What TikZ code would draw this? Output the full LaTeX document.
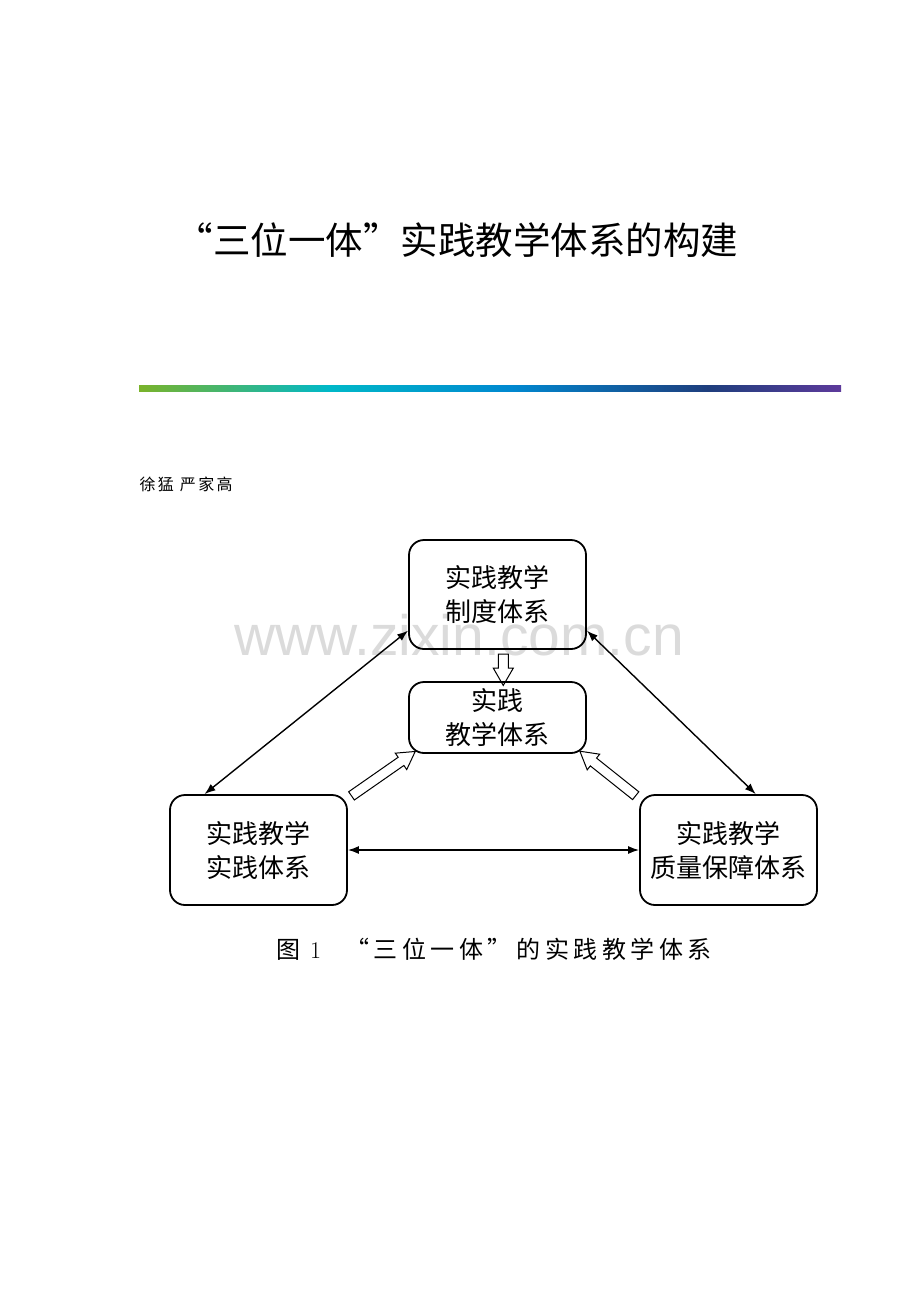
\documentclass[tikz,border=0pt]{standalone}
\usepackage{fontspec}
\newfontfamily\cjk{Noto Sans CJK SC}
\newfontfamily\cjkwide[LetterSpace=15]{Noto Sans CJK SC}
\newfontfamily\cjkwider[LetterSpace=19]{Noto Sans CJK SC}
\newfontfamily\wmfont{Liberation Sans}
\usetikzlibrary{arrows.meta,calc,shapes.arrows}
\definecolor{BarGreen}{RGB}{122,179,42}
\definecolor{BarCyan}{RGB}{0,184,200}
\definecolor{BarBlue}{RGB}{0,136,208}
\definecolor{BarNavy}{RGB}{30,62,125}
\definecolor{BarPurple}{RGB}{93,58,155}
\pgfdeclarehorizontalshading{titlebar}{100bp}{color(0bp)=(BarGreen); color(25bp)=(BarGreen);
  color(38.5bp)=(BarCyan); color(51.5bp)=(BarBlue); color(65.5bp)=(BarNavy);
  color(75bp)=(BarPurple); color(100bp)=(BarPurple)}
\newcommand\hollow[2]{\path let \p1=(#1), \p2=(#2), \n1={atan2(\y2-\y1,\x2-\x1)},
  \n2={veclen(\x2-\x1,\y2-\y1)} in node[hollowarrow, rotate=\n1, minimum height=\n2] at ($(\p1)!.5!(\p2)$) {};}
\begin{document}
\begin{tikzpicture}[x=1pt,y=-1pt,
  block/.style={draw, line width=1.8pt, rounded corners=15pt, minimum width=177pt,
    align=center, font=\cjk\fontsize{26}{34}\selectfont},
  link/.style={{Latex[length=11pt,width=8pt]}-{Latex[length=11pt,width=8pt]}, line width=1.4pt},
  hollowarrow/.style={single arrow, draw, line width=1pt, inner xsep=0pt, inner ysep=4.5pt,
    single arrow head extend=5pt, single arrow tip angle=60}]
\useasboundingbox (0,0) rectangle (920,1302);
\node (title) at (457,240) {\cjk\fontsize{37.5}{42}\selectfont “三位一体”实践教学体系的构建};
\shade[shading=titlebar] (139,385) rectangle (841,391);
\node[anchor=west] (authors) at (136,484) {\cjkwide\fontsize{16}{20}\selectfont 徐猛\ 严家高};
% watermark
\node[text=black!14] (mark) at (459,635) {\wmfont\fontsize{57}{60}\selectfont www.zixin.com.cn};
% boxes
\node[block, minimum height=109pt] (rules) at (497.5,594.5) {实践教学\\制度体系};
\node[block, minimum height=71pt] (core) at (497.5,717.5) {实践\\教学体系};
\node[block, minimum height=110pt] (practice) at (258.5,850) {实践教学\\实践体系};
\node[block, minimum height=110pt] (quality) at (728.5,850) {实践教学\\质量保障体系};
% links
\draw[link] (rules.202) -- (practice.134);
\draw[link] (rules.338) -- (quality.64);
\draw[link] (practice.east) -- (quality.west);
\hollow{rules.-84}{core.81}
\hollow{practice.30}{core.203}
\hollow{quality.150}{core.337}
% caption
\node (caption) at (494,949) {\cjkwider\fontsize{24}{28}\selectfont 图\ {\rmfamily 1}\quad “三位一体”的实践教学体系};
\end{tikzpicture}
\end{document}
